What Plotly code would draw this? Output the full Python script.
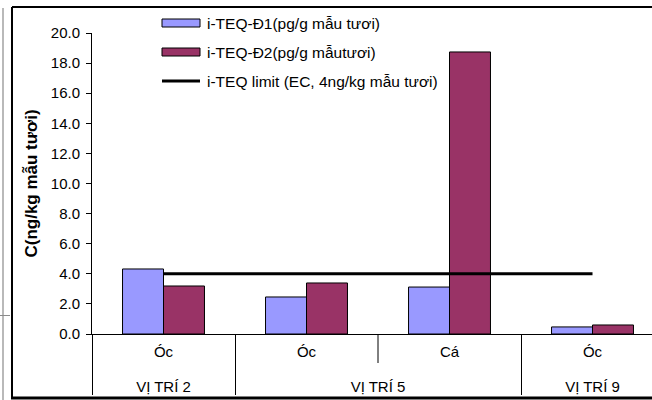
import plotly.graph_objects as go

# Sampling sites (outer level) and sample types (inner level)
sites = ["VỊ TRÍ 2", "VỊ TRÍ 5", "VỊ TRÍ 5", "VỊ TRÍ 9"]
samples = ["Óc", "Óc", "Cá", "Óc"]

# i-TEQ values per sample
teq_d1 = [4.32, 2.46, 3.12, 0.47]
teq_d2 = [3.19, 3.39, 18.74, 0.60]

# EC limit line, spanning the first to the last sample
limit_sites = ["VỊ TRÍ 2", "VỊ TRÍ 9"]
limit_samples = ["Óc", "Óc"]
limit_value = [4.0, 4.0]

series_names = [
    "i-TEQ-Đ1(pg/g mẫu tươi)",
    "i-TEQ-Đ2(pg/g mẫutươi)",
    "i-TEQ limit (EC, 4ng/kg mẫu tươi)",
]

FONT = "Arial, Liberation Sans, sans-serif"
W, H = 652, 400
C_D1 = "#9999FF"
C_D2 = "#993366"
X_RANGE = [-0.5, 3.416]

# plot area in pixels
PL, PR, PT, PB = 92, 652, 33, 334


def fx(px):
    return px / W


def fy(py):
    return 1 - py / H


# outer labels get an empty first line so they sit below the sample names
outer = ["<br>" + s for s in sites]
limit_outer = ["<br>" + s for s in limit_sites]

fig = go.Figure()
fig.add_trace(go.Bar(
    x=[outer, samples], y=teq_d1, name=series_names[0],
    marker=dict(color=C_D1, line=dict(color="black", width=1)),
))
fig.add_trace(go.Bar(
    x=[outer, samples], y=teq_d2, name=series_names[1],
    marker=dict(color=C_D2, line=dict(color="black", width=1)),
))
fig.add_trace(go.Scatter(
    x=[limit_outer, limit_samples], y=limit_value, mode="lines",
    name=series_names[2], line=dict(color="black", width=3),
))

span = X_RANGE[1] - X_RANGE[0]
div_x = fx(PL + (1.5 - X_RANGE[0]) / span * (PR - PL))

shapes = [
    # outer chart frame
    dict(type="line", xref="paper", yref="paper",
         x0=fx(12), x1=1.01, y0=fy(7), y1=fy(7),
         line=dict(color="black", width=2)),
    dict(type="line", xref="paper", yref="paper",
         x0=fx(12), x1=fx(12), y0=fy(7), y1=fy(398),
         line=dict(color="black", width=2)),
    dict(type="line", xref="paper", yref="paper",
         x0=fx(11), x1=1.01, y0=fy(398), y1=fy(398),
         line=dict(color="black", width=3)),
    # short divider between the two samples of VỊ TRÍ 5
    dict(type="line", xref="paper", yref="paper",
         x0=div_x, x1=div_x, y0=fy(PB), y1=fy(363),
         line=dict(color="black", width=1)),
    # neighbouring frame edge on the far left
    dict(type="line", xref="paper", yref="paper",
         x0=fx(3), x1=fx(3), y0=fy(8), y1=fy(400),
         line=dict(color="#8a8a8a", width=1.2)),
    dict(type="line", xref="paper", yref="paper",
         x0=0, x1=fx(10), y0=fy(315.5), y1=fy(315.5),
         line=dict(color="#8a8a8a", width=1)),
]

# legend keys drawn as wide flat swatches
key_y = [23, 52, 81]
shapes += [
    dict(type="rect", xref="paper", yref="paper",
         x0=fx(162), x1=fx(200), y0=fy(key_y[0] - 4), y1=fy(key_y[0] + 4),
         fillcolor=C_D1, line=dict(color="black", width=1)),
    dict(type="rect", xref="paper", yref="paper",
         x0=fx(162), x1=fx(200), y0=fy(key_y[1] - 4), y1=fy(key_y[1] + 4),
         fillcolor=C_D2, line=dict(color="black", width=1)),
    dict(type="line", xref="paper", yref="paper",
         x0=fx(162), x1=fx(200), y0=fy(key_y[2]), y1=fy(key_y[2]),
         line=dict(color="black", width=3)),
]

annotations = [
    dict(text=name, xref="paper", yref="paper", x=fx(205), y=fy(yy),
         xanchor="left", yanchor="middle", showarrow=False,
         font=dict(family=FONT, size=15.5, color="black"))
    for name, yy in zip(series_names, key_y)
]

fig.update_layout(
    width=W, height=H,
    margin=dict(l=0, r=0, t=0, b=0, autoexpand=False),
    paper_bgcolor="white", plot_bgcolor="white",
    font=dict(family=FONT, size=15, color="black"),
    barmode="group", bargap=0.427, bargroupgap=0,
    showlegend=False,
    xaxis=dict(
        type="multicategory", range=X_RANGE, domain=[fx(PL), fx(PR)],
        automargin=False,
        showline=True, linecolor="black", linewidth=1,
        ticks="", showgrid=False, ticklabelstandoff=4,
        showdividers=True, dividercolor="black", dividerwidth=1,
        tickfont=dict(family=FONT, size=15),
    ),
    yaxis=dict(
        range=[0, 20], dtick=2, tickformat=".1f", domain=[fy(PB), fy(PT)],
        automargin=False,
        showline=True, linecolor="black", linewidth=1,
        ticks="outside", ticklen=5, tickcolor="black",
        ticklabelstandoff=3,
        showgrid=False, zeroline=False,
        tickfont=dict(family=FONT, size=15),
        title=dict(text="<b>C(ng/kg mẫu tươi)</b>",
                   font=dict(family=FONT, size=17), standoff=8),
    ),
    shapes=shapes,
    annotations=annotations,
)

fig.write_html("out.html")
